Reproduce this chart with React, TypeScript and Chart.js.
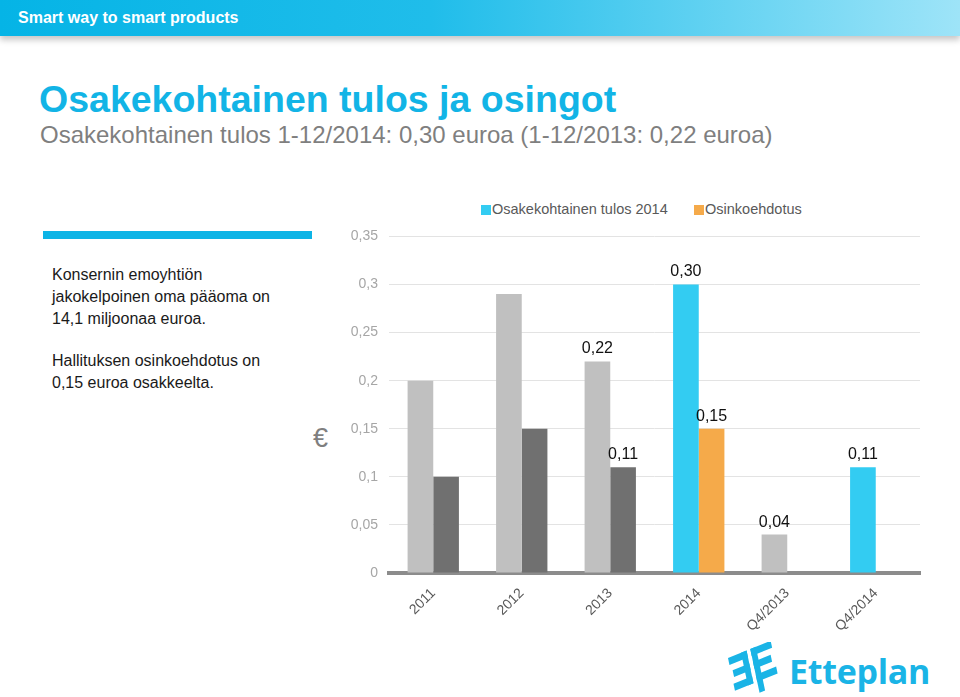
import React, { useEffect, useRef } from "react";
import { Chart, registerables } from "chart.js";

Chart.register(...registerables);

const categories = ["2011", "2012", "2013", "2014", "Q4/2013", "Q4/2014"];
const epsHistory = [0.2, 0.29, 0.22, null, 0.04, null];
const eps2014 = [null, null, null, 0.3, null, 0.11];
const dividendHistory = [0.1, 0.15, 0.11, null, null, null];
const dividendProposal = [null, null, null, 0.15, null, null];
const showEpsHistoryLabel = [false, false, true, false, true, false];
const showEps2014Label = [false, false, false, true, false, true];
const showDividendHistoryLabel = [false, false, true, false, false, false];
const showDividendProposalLabel = [false, false, false, true, false, false];
const yTicks = [0, 0.05, 0.1, 0.15, 0.2, 0.25, 0.3, 0.35];

const FONT = '"Liberation Sans", Arial, Helvetica, sans-serif';

const fmtTick = (v: number) => String(Math.round(v * 100) / 100).replace(".", ",");
const fmtValue = (v: number) => v.toFixed(2).replace(".", ",");

const labelPlugin = {
  id: "valueLabels",
  afterDatasetsDraw(chart: any) {
    const ctx = chart.ctx;
    const shows = [showEpsHistoryLabel, showEps2014Label, showDividendHistoryLabel, showDividendProposalLabel];
    ctx.save();
    ctx.font = `16px ${FONT}`;
    ctx.fillStyle = "#111111";
    ctx.textAlign = "center";
    ctx.textBaseline = "alphabetic";
    chart.data.datasets.forEach((ds: any, di: number) => {
      const meta = chart.getDatasetMeta(di);
      meta.data.forEach((el: any, i: number) => {
        const v = ds.data[i];
        if (v == null || !shows[di][i]) return;
        ctx.fillText(fmtValue(v), el.x, el.y - 8);
      });
    });
    ctx.restore();
  },
};

function BarChart() {
  const ref = useRef<HTMLCanvasElement | null>(null);
  useEffect(() => {
    if (!ref.current) return;
    const chart = new Chart(ref.current, {
      type: "bar",
      data: {
        labels: categories,
        datasets: [
          { label: "Osakekohtainen tulos", data: epsHistory, backgroundColor: "#c0c0c0", stack: "eps" },
          { label: "Osakekohtainen tulos 2014", data: eps2014, backgroundColor: "#33ccf2", stack: "eps" },
          { label: "Osinko", data: dividendHistory, backgroundColor: "#707070", stack: "div" },
          { label: "Osinkoehdotus", data: dividendProposal, backgroundColor: "#f5aa4a", stack: "div" },
        ],
      },
      options: {
        animation: false,
        responsive: false,
        maintainAspectRatio: false,
        layout: { padding: { top: 0, right: 10, left: 0, bottom: 0 } },
        datasets: { bar: { categoryPercentage: 0.58, barPercentage: 1.0 } },
        plugins: { legend: { display: false }, tooltip: { enabled: false } },
        scales: {
          x: {
            stacked: true,
            grid: { display: false },
            border: { display: true, color: "#8c8c8c", width: 4 },
            ticks: {
              color: "#595959",
              font: { family: FONT, size: 14 },
              minRotation: 45,
              maxRotation: 45,
              padding: 4,
            },
            afterFit: (s: any) => {
              s.height = 63;
            },
          },
          y: {
            stacked: true,
            min: 0,
            max: 0.35,
            afterBuildTicks: (s: any) => {
              s.ticks = yTicks.map((v) => ({ value: v }));
            },
            grid: { color: "#e3e3e3", lineWidth: 1, drawTicks: false },
            border: { display: false },
            ticks: {
              color: "#a6a6a6",
              font: { family: FONT, size: 14 },
              padding: 11,
              callback: (v: any) => fmtTick(Number(v)),
            },
            afterFit: (s: any) => {
              s.width = 59;
            },
          },
        },
      },
      plugins: [labelPlugin],
    });
    return () => chart.destroy();
  }, []);
  return (
    <canvas
      ref={ref}
      width={600}
      height={419}
      style={{ position: "absolute", left: 330, top: 217, width: 600, height: 419 }}
    />
  );
}

function Logo() {
  return (
    <div style={{ position: "absolute", left: 720, top: 642, width: 230, height: 54 }}>
      <svg width="66" height="52" viewBox="0 0 66 52" style={{ position: "absolute", left: 0, top: 0 }}>
        <g transform="translate(8,16) rotate(-22) skewX(-10)" fill="#1ab4e6">
          {/* left mirrored E */}
          <rect x="0" y="0" width="20" height="7" />
          <rect x="2" y="13" width="18" height="7" />
          <rect x="0" y="26" width="20" height="7" />
          <rect x="14" y="0" width="6" height="33" />
          {/* right E with long stem */}
          <rect x="24" y="0" width="6" height="44" />
          <rect x="24" y="0" width="22" height="7" />
          <rect x="24" y="13" width="19" height="7" />
          <rect x="24" y="26" width="22" height="7" />
        </g>
      </svg>
      <div
        style={{
          position: "absolute",
          left: 69,
          top: 9,
          fontFamily: '"Open Sans", "DejaVu Sans", Arial, sans-serif',
          fontWeight: 700,
          fontSize: 34,
          color: "#1ab4e6",
          lineHeight: "40px",
          letterSpacing: -0.3,
        }}
      >
        Etteplan
      </div>
    </div>
  );
}

export default function App() {
  const text: React.CSSProperties = {
    position: "absolute",
    fontFamily: FONT,
    whiteSpace: "nowrap",
  };
  return (
    <div style={{ position: "absolute", left: 0, top: 0, width: 960, height: 697, background: "#ffffff", overflow: "hidden" }}>
      <div
        style={{
          position: "absolute",
          left: 0,
          top: 0,
          width: 960,
          height: 36,
          background: "linear-gradient(90deg, #05b4e6 0%, #20bdea 45%, #6fd6f3 80%, #9ee4f8 100%)",
          boxShadow: "0 4px 6px rgba(0,0,0,0.22)",
        }}
      />
      <div style={{ ...text, left: 18, top: 8, fontSize: 16, fontWeight: 700, color: "#ffffff", lineHeight: "19px" }}>
        Smart way to smart products
      </div>
      <div style={{ ...text, left: 39, top: 78, fontSize: 37.5, fontWeight: 700, color: "#12b4e6", lineHeight: "42px" }}>
        Osakekohtainen tulos ja osingot
      </div>
      <div style={{ ...text, left: 40, top: 121, fontSize: 24, color: "#7f7f7f", lineHeight: "28px" }}>
        Osakekohtainen tulos 1-12/2014: 0,30 euroa (1-12/2013: 0,22 euroa)
      </div>
      <div style={{ position: "absolute", left: 43, top: 231, width: 269, height: 8, background: "#0db4e6" }} />
      <div style={{ ...text, left: 52, top: 264, fontSize: 16, color: "#1a1a1a", lineHeight: "22px" }}>
        Konsernin emoyhtiön
        <br />
        jakokelpoinen oma pääoma on
        <br />
        14,1 miljoonaa euroa.
      </div>
      <div style={{ ...text, left: 52, top: 350, fontSize: 16, color: "#1a1a1a", lineHeight: "22px" }}>
        Hallituksen osinkoehdotus on
        <br />
        0,15 euroa osakkeelta.
      </div>
      <div style={{ position: "absolute", left: 481, top: 205, width: 10, height: 10, background: "#33ccf2" }} />
      <div style={{ ...text, left: 492, top: 201, fontSize: 14.5, color: "#595959", lineHeight: "17px" }}>
        Osakekohtainen tulos 2014
      </div>
      <div style={{ position: "absolute", left: 694, top: 205, width: 10, height: 10, background: "#f5aa4a" }} />
      <div style={{ ...text, left: 705, top: 201, fontSize: 14.5, color: "#595959", lineHeight: "17px" }}>
        Osinkoehdotus
      </div>
      <div style={{ ...text, left: 313, top: 422, fontSize: 27, color: "#7f7f7f", lineHeight: "32px" }}>€</div>
      <BarChart />
      <Logo />
    </div>
  );
}
